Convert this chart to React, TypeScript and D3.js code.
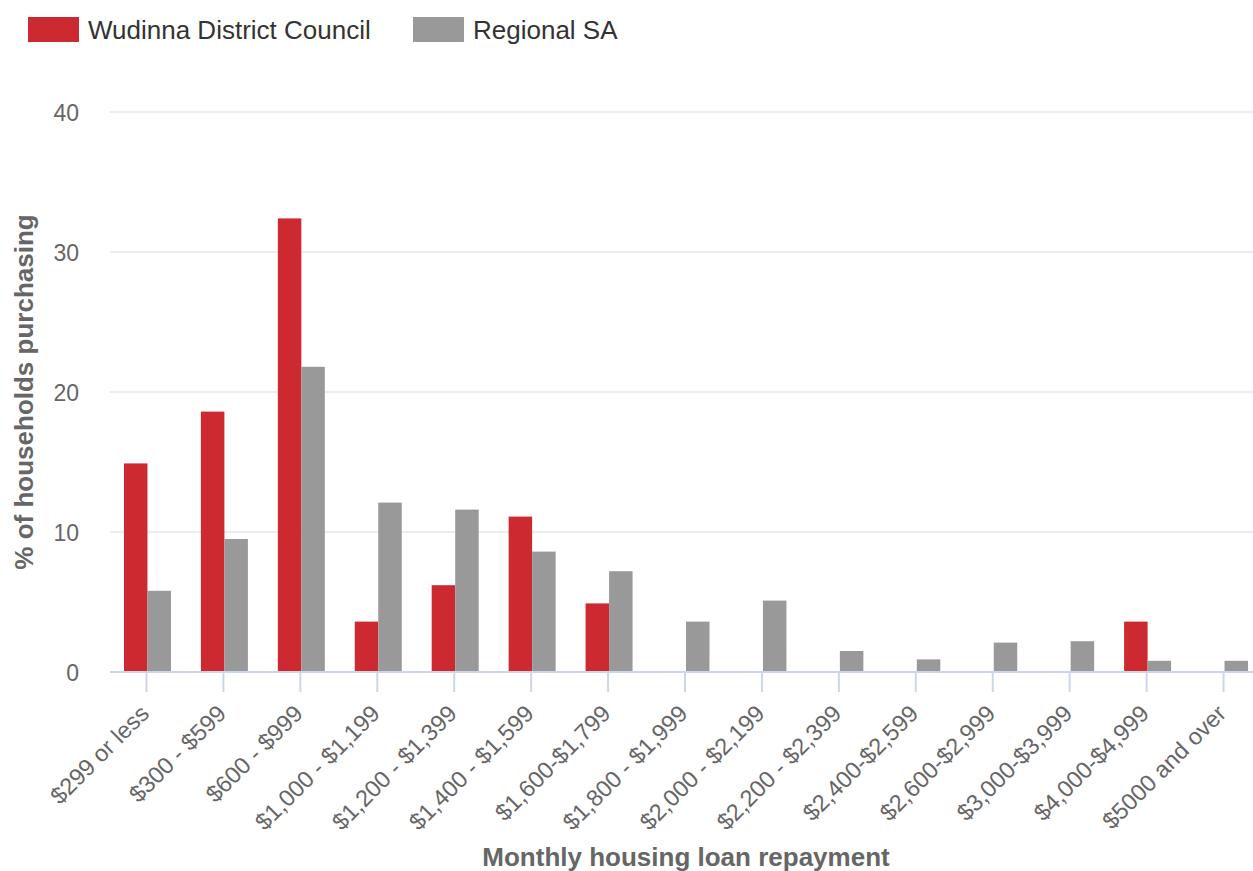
import React from "react";
import * as d3 from "d3";

const categories = [
  "$299 or less",
  "$300 - $599",
  "$600 - $999",
  "$1,000 - $1,199",
  "$1,200 - $1,399",
  "$1,400 - $1,599",
  "$1,600-$1,799",
  "$1,800 - $1,999",
  "$2,000 - $2,199",
  "$2,200 - $2,399",
  "$2,400-$2,599",
  "$2,600-$2,999",
  "$3,000-$3,999",
  "$4,000-$4,999",
  "$5000 and over",
];

const wudinna = [14.9, 18.6, 32.4, 3.6, 6.2, 11.1, 4.9, 0, 0, 0, 0, 0, 0, 3.6, 0];
const regional = [5.8, 9.5, 21.8, 12.1, 11.6, 8.6, 7.2, 3.6, 5.1, 1.5, 0.9, 2.1, 2.2, 0.8, 0.8];

const seriesNames = ["Wudinna District Council", "Regional SA"];
const seriesColors = ["#cc2a30", "#999999"];
const yTicks = [0, 10, 20, 30, 40];

const FONT = '"Liberation Sans", Arial, Helvetica, sans-serif';

const App: React.FC = () => {
  const width = 1253;
  const height = 871;
  const plotLeft = 110;
  const plotRight = 1253;

  // category bands run a little past the visible right edge
  const x = d3.scaleBand<string>().domain(categories).range([108, 1262]);
  const bw = x.bandwidth();
  const x1 = d3
    .scaleBand<string>()
    .domain(seriesNames)
    .range([bw / 2 - 22.5, bw / 2 + 24.5]);

  const y = d3.scaleLinear().domain([0, 40]).range([672, 112]);

  const values = [wudinna, regional];

  return (
    <svg
      width={width}
      height={height}
      style={{ position: "absolute", left: 0, top: 0, background: "#fff" }}
      fontFamily={FONT}
    >
      {/* legend */}
      {seriesNames.map((name, i) => {
        const lx = i === 0 ? 28 : 413;
        return (
          <g key={name}>
            <rect x={lx} y={17} width={51} height={25} fill={seriesColors[i]} />
            <text x={lx + 60} y={39} fontSize={26} fill="#333333">
              {name}
            </text>
          </g>
        );
      })}

      {/* gridlines */}
      {yTicks
        .filter((t) => t > 0)
        .map((t) => (
          <line
            key={t}
            x1={plotLeft}
            x2={plotRight}
            y1={y(t)}
            y2={y(t)}
            stroke="#e6e6e6"
            strokeWidth={1.5}
          />
        ))}

      {/* y tick labels */}
      {yTicks.map((t) => (
        <text
          key={t}
          x={79}
          y={y(t) + 8.5}
          textAnchor="end"
          fontSize={23}
          fill="#666666"
        >
          {t}
        </text>
      ))}

      {/* bars */}
      {categories.map((c, ci) => (
        <g key={c} transform={`translate(${x(c)},0)`}>
          {values.map((vals, si) =>
            vals[ci] > 0 ? (
              <rect
                key={si}
                x={x1(seriesNames[si])}
                y={y(vals[ci])}
                width={x1.bandwidth()}
                height={y(0) - y(vals[ci])}
                fill={seriesColors[si]}
              />
            ) : null
          )}
        </g>
      ))}

      {/* x axis line and ticks */}
      <line
        x1={plotLeft}
        x2={plotRight}
        y1={y(0)}
        y2={y(0)}
        stroke="#ccd6eb"
        strokeWidth={2}
      />
      {categories.map((c) => {
        const cx = (x(c) as number) + bw / 2;
        return (
          <g key={c}>
            <line
              x1={cx}
              x2={cx}
              y1={y(0)}
              y2={y(0) + 20}
              stroke="#ccd6eb"
              strokeWidth={2}
            />
            <text
              transform={`translate(${cx + 4},${y(0) + 43}) rotate(-45)`}
              textAnchor="end"
              fontSize={23.5}
              fill="#666666"
            >
              {c}
            </text>
          </g>
        );
      })}

      {/* axis titles */}
      <text
        x={(plotLeft + 1262) / 2}
        y={866}
        textAnchor="middle"
        fontSize={26}
        fontWeight="bold"
        fill="#666666"
      >
        Monthly housing loan repayment
      </text>
      <text
        transform={`translate(33,${(y(0) + y(40)) / 2}) rotate(-90)`}
        textAnchor="middle"
        fontSize={26}
        fontWeight="bold"
        fill="#666666"
      >
        % of households purchasing
      </text>
    </svg>
  );
};

export default App;
